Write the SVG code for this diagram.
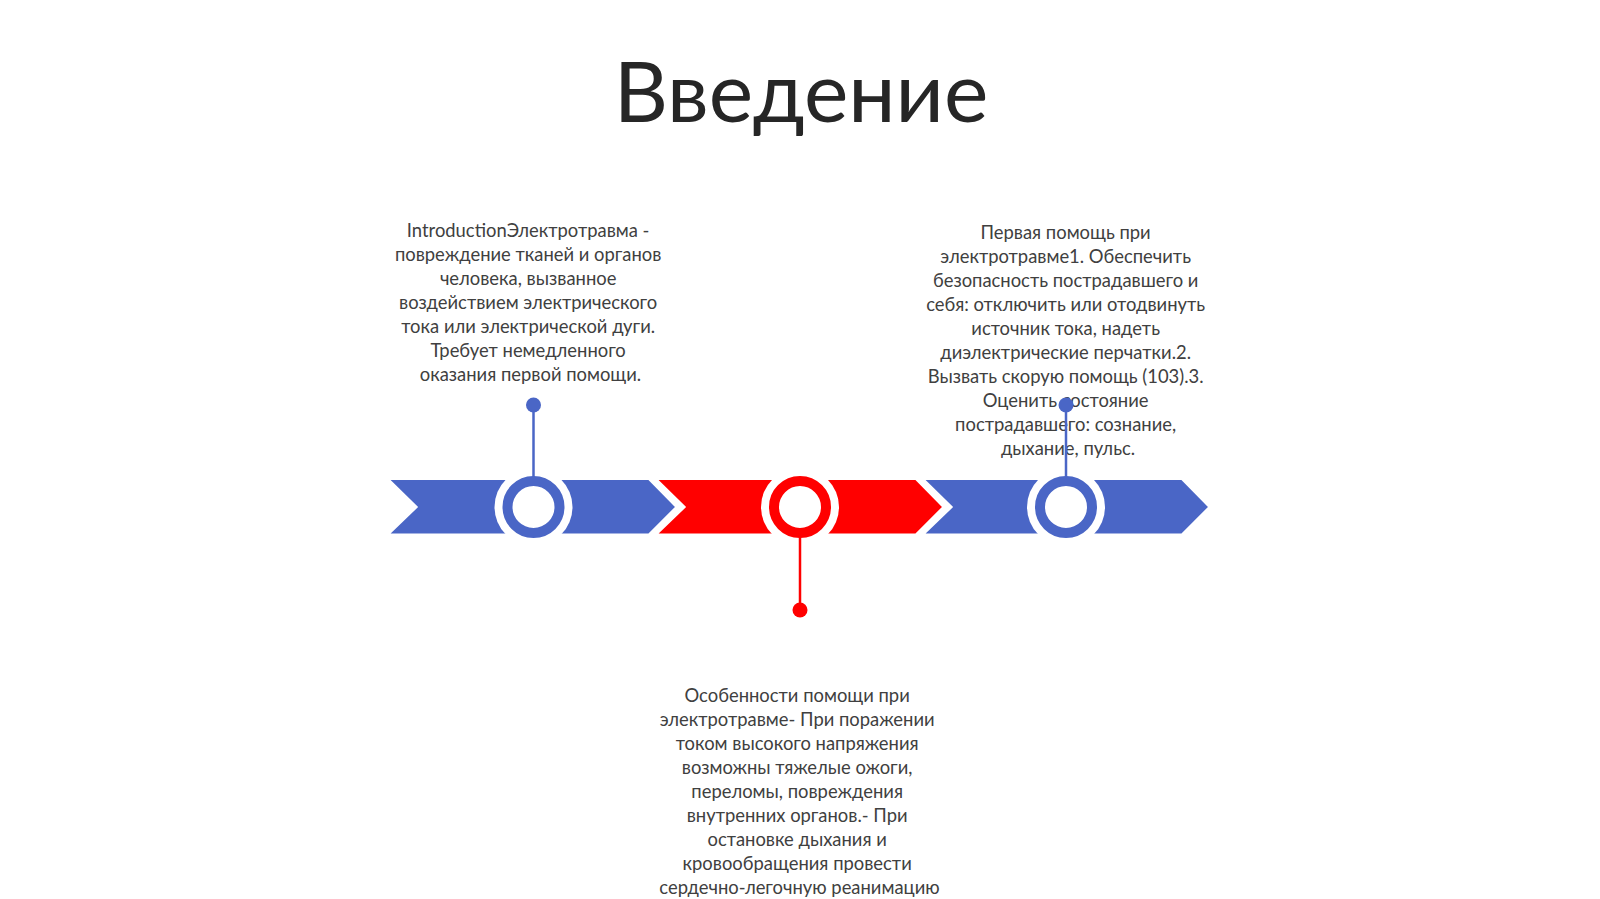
<svg xmlns="http://www.w3.org/2000/svg" width="1600" height="899" viewBox="0 0 1600 899">
  <style>
    .title { font-family: Lato, "Liberation Sans", sans-serif; font-size: 84px; fill: #262626; text-anchor: middle; }
    .body { font-family: Lato, "Liberation Sans", sans-serif; font-size: 18.4px; fill: #404040; text-anchor: middle; }
    .blue { fill: #4A66C6; }
    .red { fill: #FF0000; }
    .chev { stroke: #FFFFFF; stroke-width: 3; stroke-linejoin: miter; }
    .halo { fill: #FFFFFF; }
    .ringB { fill: none; stroke: #4A66C6; stroke-width: 10; }
    .ringR { fill: none; stroke: #FF0000; stroke-width: 10; }
    .lnB { stroke: #4A66C6; stroke-width: 2.5; }
    .lnR { stroke: #FF0000; stroke-width: 2.5; }
  </style>
  <rect width="1600" height="899" fill="#FFFFFF"/>
  <text class="title" x="801" y="122">Введение</text>

  <g id="bar">
    <path class="chev blue" d="M387,478.5 L649,478.5 L677,507 L649,535 L387,535 L416,507 Z"/>
    <path class="chev red" d="M655,478.5 L916,478.5 L944,507 L916,535 L655,535 L684,507 Z"/>
    <path class="chev blue" d="M922,478.5 L1182,478.5 L1210,507 L1182,535 L922,535 L951,507 Z"/>
  </g>

  <g id="node1">
    <circle class="halo" cx="533.5" cy="507" r="39"/>
    <circle class="ringB" cx="533.5" cy="507" r="26"/>
    <text class="body">
      <tspan x="530.5" y="237">IntroductionЭлектротравма -</tspan>
      <tspan x="530.5" y="261">повреждение тканей и органов</tspan>
      <tspan x="530.5" y="285">человека, вызванное</tspan>
      <tspan x="530.5" y="309">воздействием электрического</tspan>
      <tspan x="530.5" y="333">тока или электрической дуги.</tspan>
      <tspan x="530.5" y="357">Требует немедленного</tspan>
      <tspan x="530.5" y="381">оказания первой помощи.</tspan>
    </text>
  </g>

  <g id="node2">
    <circle class="halo" cx="800" cy="507" r="39"/>
    <circle class="ringR" cx="800" cy="507" r="26"/>
    <text class="body">
      <tspan x="799.5" y="702">Особенности помощи при</tspan>
      <tspan x="799.5" y="726">электротравме- При поражении</tspan>
      <tspan x="799.5" y="750">током высокого напряжения</tspan>
      <tspan x="799.5" y="774">возможны тяжелые ожоги,</tspan>
      <tspan x="799.5" y="798">переломы, повреждения</tspan>
      <tspan x="799.5" y="822">внутренних органов.- При</tspan>
      <tspan x="799.5" y="846">остановке дыхания и</tspan>
      <tspan x="799.5" y="870">кровообращения провести</tspan>
      <tspan x="799.5" y="894">сердечно-легочную реанимацию</tspan>
    </text>
  </g>

  <g id="node3">
    <circle class="halo" cx="1066" cy="507" r="39"/>
    <circle class="ringB" cx="1066" cy="507" r="26"/>
    <text class="body">
      <tspan x="1068" y="239">Первая помощь при</tspan>
      <tspan x="1068" y="263">электротравме1. Обеспечить</tspan>
      <tspan x="1068" y="287">безопасность пострадавшего и</tspan>
      <tspan x="1068" y="311">себя: отключить или отодвинуть</tspan>
      <tspan x="1068" y="335">источник тока, надеть</tspan>
      <tspan x="1068" y="359">диэлектрические перчатки.2.</tspan>
      <tspan x="1068" y="383">Вызвать скорую помощь (103).3.</tspan>
      <tspan x="1068" y="407">Оценить состояние</tspan>
      <tspan x="1068" y="431">пострадавшего: сознание,</tspan>
      <tspan x="1068" y="455">дыхание, пульс.</tspan>
    </text>
  </g>

  <g id="connectors">
    <line class="lnB" x1="533.5" y1="405" x2="533.5" y2="477"/>
    <circle class="blue" cx="533.5" cy="405" r="7.5"/>
    <line class="lnR" x1="800" y1="537" x2="800" y2="610"/>
    <circle class="red" cx="800" cy="610" r="7.5"/>
    <line class="lnB" x1="1066" y1="405" x2="1066" y2="477"/>
    <circle class="blue" cx="1066" cy="405" r="7.5"/>
  </g>
</svg>
